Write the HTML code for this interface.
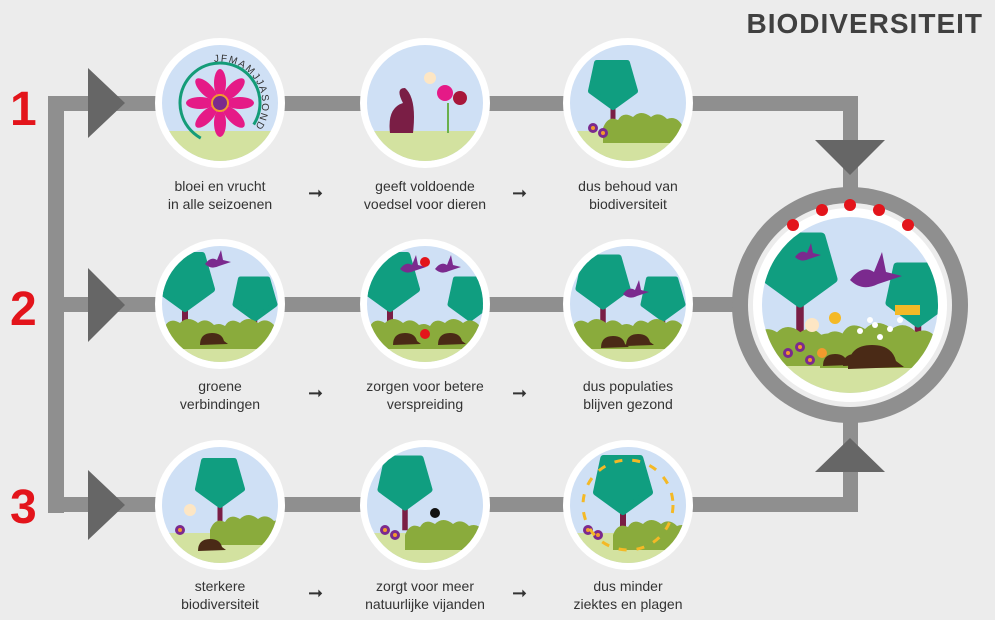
<!DOCTYPE html>
<html><head><meta charset="utf-8"><style>
html,body{margin:0;padding:0;background:#ececec;}
body{width:995px;height:620px;overflow:hidden;position:relative;font-family:"Liberation Sans",sans-serif;}
svg{position:absolute;left:0;top:0}
.lbl{position:absolute;width:200px;text-align:center;font-size:14px;line-height:18px;color:#333;}
.num{position:absolute;color:#e3141b;font-weight:bold;font-size:48px;line-height:48px;}
.arr{position:absolute;font-size:18px;color:#333;}
</style></head><body>
<svg width="995" height="620" viewBox="0 0 995 620">
<defs>
<clipPath id="c"><circle r="58"/></clipPath>
<clipPath id="cb"><circle r="88"/></clipPath>
<path id="arcp" d="M-38,18 A42,42 0 1 1 28,32"/>
<g id="tree"><rect x="-2.5" y="5" width="5" height="38" fill="#7a1e45"/><path d="M-16,-22 L14,-22 L22,6 L0,22 L-22,6 Z" fill="#109e80" stroke="#109e80" stroke-width="6" stroke-linejoin="round"/></g>
<g id="bush"><path d="M-40,20 L-40,5 Q-35,-8 -25,-3 Q-20,-12 -10,-6 Q-2,-14 8,-6 Q16,-12 24,-4 Q34,-8 40,4 L40,20Z" fill="#8aab3c"/></g>
<g id="hog"><path d="M-12,6 Q-12,-6 0,-6 Q10,-6 12,2 L16,5 L-12,6Z" fill="#4a2a16"/></g>
<g id="flw"><circle r="5" fill="#7b2a8e"/><circle r="2" fill="#f29a2e"/></g>
<g id="bird"><path d="M-10,0 Q-4,-8 2,-4 L6,-14 L8,-4 L16,-2 L4,2 Q-4,6 -10,0Z" fill="#7b2a8e"/></g>
<g id="base"><circle r="65" fill="#fff"/><g clip-path="url(#c)"><rect x="-60" y="-60" width="120" height="120" fill="#cfe0f5"/><rect x="-60" y="28" width="120" height="40" fill="#d3e2a0"/></g></g>
</defs>
<g fill="#8f8f8f">
<rect x="48" y="96" width="16" height="417"/>
<rect x="48" y="96" width="810" height="15"/>
<rect x="48" y="297" width="740" height="15"/>
<rect x="48" y="497" width="810" height="15"/>
<rect x="843" y="96" width="15" height="110"/>
<rect x="843" y="410" width="15" height="102"/>
<circle cx="850" cy="305" r="118"/>
</g>
<circle cx="850" cy="305" r="102" fill="#ececec"/>
<circle cx="850" cy="305" r="97" fill="#fff"/>
<g fill="#666">
<polygon points="88,68 125,103 88,138"/>
<polygon points="88,268 125,305 88,342"/>
<polygon points="88,470 125,505 88,540"/>
<polygon points="815,140 885,140 850,175"/>
<polygon points="815,472 885,472 850,438"/>
</g>
<g transform="translate(850,305)">
<g clip-path="url(#cb)">
<rect x="-90" y="-90" width="180" height="180" fill="#cfe0f5"/>
<rect x="-90" y="50" width="180" height="50" fill="#d3e2a0"/>
<g transform="translate(-50,-35) scale(1.5)"><use href="#tree"/></g>
<g transform="translate(68,-10) scale(1.3)"><use href="#tree"/></g>
<g transform="translate(-60,35) scale(1.3)"><use href="#bush"/></g>
<g transform="translate(30,33) scale(1.5)"><use href="#bush"/></g>
<g transform="translate(25,20)" fill="#fff"><circle r="3"/><circle cx="15" cy="4" r="3"/><circle cx="-15" cy="6" r="3"/><circle cx="5" cy="12" r="3"/><circle cx="25" cy="-5" r="3"/><circle cx="-5" cy="-5" r="3"/></g>
<g transform="translate(22,52) scale(2)"><use href="#hog"/></g>
<g transform="translate(-15,55)"><use href="#hog"/></g>
<g transform="translate(5,55)"><use href="#hog"/></g>
<g transform="translate(-62,48)"><use href="#flw"/></g>
<g transform="translate(-50,42)"><use href="#flw"/></g>
<g transform="translate(-40,55)"><use href="#flw"/></g>
<circle cx="-28" cy="48" r="5" fill="#f29a2e"/>
<g transform="translate(20,-25) scale(2)"><use href="#bird"/></g>
<g transform="translate(-45,-48)"><use href="#bird"/></g>
<rect x="45" y="0" width="25" height="10" fill="#f4b926"/>
<circle cx="-38" cy="20" r="7" fill="#fde6c4"/><circle cx="-15" cy="13" r="6" fill="#f4b926"/>
</g>
<g fill="#e3141b"><circle cx="-57" cy="-80" r="6"/><circle cx="-28" cy="-95" r="6"/><circle cx="0" cy="-100" r="6"/><circle cx="29" cy="-95" r="6"/><circle cx="58" cy="-80" r="6"/></g>
</g>
<g transform="translate(220,103)"><use href="#base"/>
<circle r="40" fill="none" stroke="#149c78" stroke-width="3" stroke-dasharray="190 60" transform="rotate(120)"/>
<g fill="#e51a87"><ellipse cx="0" cy="-20" rx="6" ry="14"/><ellipse cx="0" cy="20" rx="6" ry="14"/><ellipse cx="-20" cy="0" rx="14" ry="6"/><ellipse cx="20" cy="0" rx="14" ry="6"/><ellipse cx="14" cy="14" rx="6" ry="14" transform="rotate(-45 14 14)"/><ellipse cx="-14" cy="-14" rx="6" ry="14" transform="rotate(-45 -14 -14)"/><ellipse cx="14" cy="-14" rx="6" ry="14" transform="rotate(45 14 -14)"/><ellipse cx="-14" cy="14" rx="6" ry="14" transform="rotate(45 -14 14)"/></g>
<circle r="8" fill="#7b2a8e" stroke="#f29a2e" stroke-width="2"/>
<text font-size="10" font-family="Liberation Sans" fill="#333" letter-spacing="1.5"><textPath href="#arcp" startOffset="42%">JFMAMJJASOND</textPath></text>
</g>
<g transform="translate(425,103)"><use href="#base"/>
<g clip-path="url(#c)"><path d="M-35,30 Q-38,5 -22,0 Q-30,-15 -20,-15 Q-8,-5 -12,30Z" fill="#7a1e45"/>
<circle cx="20" cy="-10" r="8" fill="#e51a87"/><circle cx="35" cy="-5" r="7" fill="#a8163a"/><rect x="22" y="0" width="2" height="30" fill="#6ab04c"/><circle cx="5" cy="-25" r="6" fill="#fde6c4"/></g></g>
<g transform="translate(628,103)"><use href="#base"/>
<g clip-path="url(#c)"><g transform="translate(-15,-18)"><use href="#tree"/></g><g transform="translate(15,20)"><use href="#bush"/></g>
<g transform="translate(-35,25)"><use href="#flw"/></g><g transform="translate(-25,30)"><use href="#flw"/></g></g></g>
<g transform="translate(220,304)"><use href="#base"/>
<g clip-path="url(#c)"><g transform="translate(-35,-22) scale(1.2)"><use href="#tree"/></g><g transform="translate(35,-5) scale(0.9)"><use href="#tree"/></g>
<g transform="translate(-30,25)"><use href="#bush"/></g><g transform="translate(30,25)"><use href="#bush"/></g><g transform="translate(-8,35)"><use href="#hog"/></g>
<g transform="translate(-5,-40)"><use href="#bird"/></g></g></g>
<g transform="translate(425,304)"><use href="#base"/>
<g clip-path="url(#c)"><g transform="translate(-35,-22) scale(1.2)"><use href="#tree"/></g><g transform="translate(45,-5) scale(0.9)"><use href="#tree"/></g>
<g transform="translate(-30,25)"><use href="#bush"/></g><g transform="translate(30,25)"><use href="#bush"/></g><g transform="translate(-20,35)"><use href="#hog"/></g><g transform="translate(25,35)"><use href="#hog"/></g>
<g transform="translate(-15,-35)"><use href="#bird"/></g><g transform="translate(20,-35)"><use href="#bird"/></g>
<circle cx="0" cy="-42" r="5" fill="#e3141b"/><circle cx="0" cy="30" r="5" fill="#e3141b"/></g></g>
<g transform="translate(628,304)"><use href="#base"/>
<g clip-path="url(#c)"><g transform="translate(-25,-22) scale(1.1)"><use href="#tree"/></g><g transform="translate(35,-5) scale(0.9)"><use href="#tree"/></g>
<g transform="translate(-30,25)"><use href="#bush"/></g><g transform="translate(30,25)"><use href="#bush"/></g><g transform="translate(-15,38)"><use href="#hog"/></g><g transform="translate(10,36)"><use href="#hog"/></g><g transform="translate(5,-10)"><use href="#bird"/></g></g></g>
<g transform="translate(220,505)"><use href="#base"/>
<g clip-path="url(#c)"><g transform="translate(0,-22)"><use href="#tree"/></g><g transform="translate(30,20)"><use href="#bush"/></g><g transform="translate(-10,40)"><use href="#hog"/></g>
<g transform="translate(-40,25)"><use href="#flw"/></g><circle cx="-30" cy="5" r="6" fill="#fde6c4"/></g></g>
<g transform="translate(425,505)"><use href="#base"/>
<g clip-path="url(#c)"><g transform="translate(-20,-22) scale(1.1)"><use href="#tree"/></g><g transform="translate(20,25)"><use href="#bush"/></g>
<g transform="translate(-40,25)"><use href="#flw"/></g><g transform="translate(-30,30)"><use href="#flw"/></g><circle cx="10" cy="8" r="5" fill="#111"/></g></g>
<g transform="translate(628,505)"><use href="#base"/>
<g clip-path="url(#c)"><g transform="translate(-5,-20) scale(1.2)"><use href="#tree"/></g><g transform="translate(25,25)"><use href="#bush"/></g>
<g transform="translate(-40,25)"><use href="#flw"/></g><g transform="translate(-30,30)"><use href="#flw"/></g>
<circle r="45" fill="none" stroke="#f4b926" stroke-width="3" stroke-dasharray="8 10"/></g></g>
</svg>
<div style="position:absolute;right:12px;top:8px;font-size:28px;font-weight:bold;color:#404040;letter-spacing:1px;">BIODIVERSITEIT</div>
<div class="num" style="left:10px;top:86px">1</div>
<div class="num" style="left:10px;top:286px">2</div>
<div class="num" style="left:10px;top:484px">3</div>
<div class="lbl" style="left:120px;top:177px">bloei en vrucht<br>in alle seizoenen</div>
<div class="lbl" style="left:325px;top:177px">geeft voldoende<br>voedsel voor dieren</div>
<div class="lbl" style="left:528px;top:177px">dus behoud van<br>biodiversiteit</div>
<div class="lbl" style="left:120px;top:377px">groene<br>verbindingen</div>
<div class="lbl" style="left:325px;top:377px">zorgen voor betere<br>verspreiding</div>
<div class="lbl" style="left:528px;top:377px">dus populaties<br>blijven gezond</div>
<div class="lbl" style="left:120px;top:577px">sterkere<br>biodiversiteit</div>
<div class="lbl" style="left:325px;top:577px">zorgt voor meer<br>natuurlijke vijanden</div>
<div class="lbl" style="left:528px;top:577px">dus minder<br>ziektes en plagen</div>
<div class="arr" style="left:308px;top:183px">➞</div>
<div class="arr" style="left:512px;top:183px">➞</div>
<div class="arr" style="left:308px;top:383px">➞</div>
<div class="arr" style="left:512px;top:383px">➞</div>
<div class="arr" style="left:308px;top:583px">➞</div>
<div class="arr" style="left:512px;top:583px">➞</div>
</body></html>
